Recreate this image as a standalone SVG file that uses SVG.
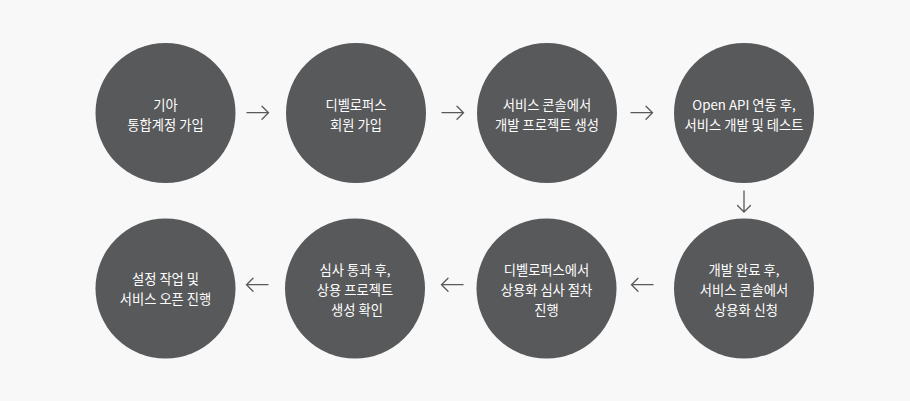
<svg xmlns="http://www.w3.org/2000/svg" width="910" height="401" viewBox="0 0 910 401">
<style>
.node circle{fill:#58595b}
.node text{fill:#ffffff;font-family:"Noto Sans CJK KR","Noto Sans",sans-serif;font-size:13.3px;text-anchor:middle}
.conn path{fill:none;stroke:#58595b;stroke-width:1.3;stroke-linecap:round;stroke-linejoin:miter}
</style>
<rect width="910" height="401" fill="#f8f8f8"/>
<g id="n1" class="node"><circle cx="165.5" cy="113" r="70"/><text x="165.5" y="110">기아</text><text x="165.5" y="130">통합계정 가입</text></g>
<g id="n2" class="node"><circle cx="356" cy="113" r="70"/><text x="356" y="110">디벨로퍼스</text><text x="356" y="130">회원 가입</text></g>
<g id="n3" class="node"><circle cx="547" cy="113" r="70"/><text x="547" y="110">서비스 콘솔에서</text><text x="547" y="130">개발 프로젝트 생성</text></g>
<g id="n4" class="node"><circle cx="744" cy="113" r="70"/><text x="744" y="110">Open API 연동 후,</text><text x="744" y="130">서비스 개발 및 테스트</text></g>
<g id="n5" class="node"><circle cx="744" cy="288.5" r="70"/><text x="744" y="275">개발 완료 후,</text><text x="744" y="295">서비스 콘솔에서</text><text x="746" y="315">상용화 신청</text></g>
<g id="n6" class="node"><circle cx="546.5" cy="288.5" r="70"/><text x="546.5" y="275">디벨로퍼스에서</text><text x="546.5" y="295">상용화 심사 절차</text><text x="546.5" y="315">진행</text></g>
<g id="n7" class="node"><circle cx="355" cy="288.5" r="70"/><text x="355" y="275">심사 통과 후,</text><text x="355" y="295">상용 프로젝트</text><text x="357" y="315">생성 확인</text></g>
<g id="n8" class="node"><circle cx="165.5" cy="288.5" r="70"/><text x="165.5" y="284">설정 작업 및</text><text x="165.5" y="304">서비스 오픈 진행</text></g>
<g id="connectors" class="conn">
<path d="M247 112.7H268.5M262 106.2L268.5 112.7L262 119.2"/>
<path d="M442 112.7H463.5M457 106.2L463.5 112.7L457 119.2"/>
<path d="M631 112.7H652.5M646 106.2L652.5 112.7L646 119.2"/>
<path d="M744 191V212M737.5 205.5L744 212L750.5 205.5"/>
<path d="M653 284.7H631.5M638 278.2L631.5 284.7L638 291.2"/>
<path d="M463 284.7H441.5M448 278.2L441.5 284.7L448 291.2"/>
<path d="M268 284.7H246.5M253 278.2L246.5 284.7L253 291.2"/>
</g>
</svg>
